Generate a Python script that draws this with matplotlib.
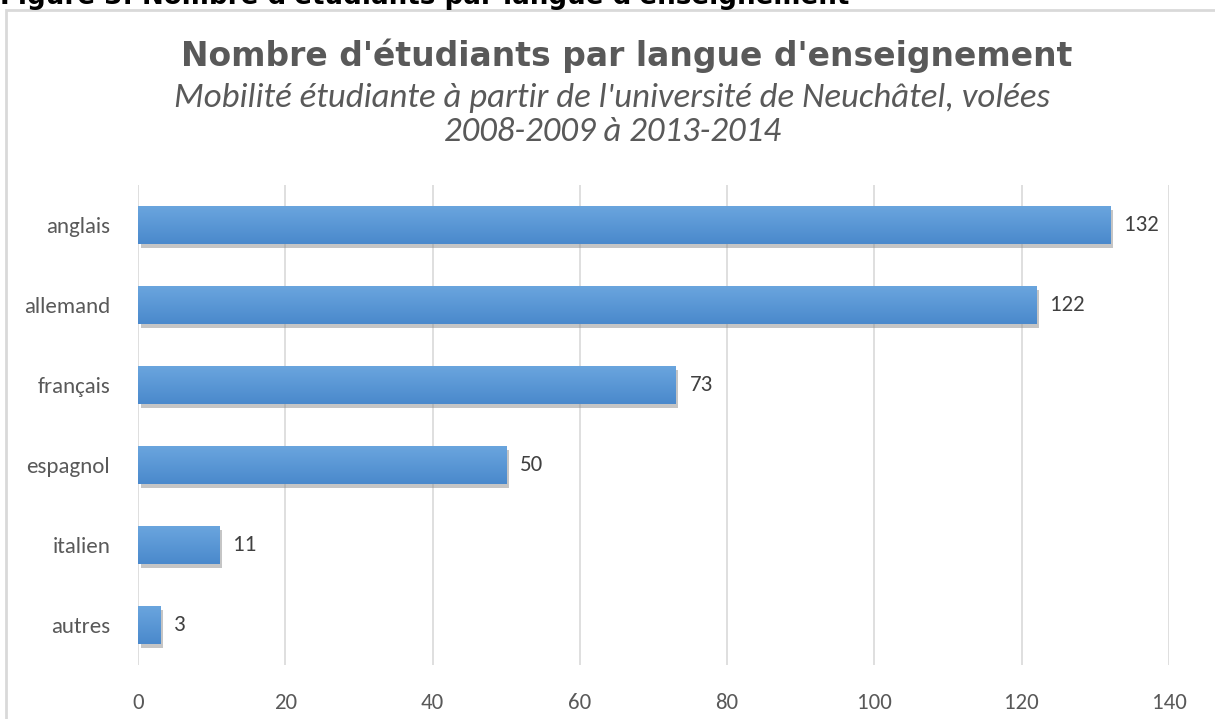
import matplotlib
matplotlib.use("Agg")
import matplotlib.pyplot as plt
import numpy as np
from matplotlib.patches import Rectangle
import matplotlib.patheffects as pe
from matplotlib import font_manager
from matplotlib.colors import LinearSegmentedColormap

categories = ["anglais", "allemand", "français", "espagnol", "italien", "autres"]
values = [132, 122, 73, 50, 11, 3]
xticks = [0, 20, 40, 60, 80, 100, 120, 140]

avail = {f.name for f in font_manager.fontManager.ttflist}
def pick(*names):
    for nm in names:
        if nm in avail:
            return nm
    return "DejaVu Sans"

calibri = pick("Carlito", "Open Sans", "Lato")
sub_font = pick("Carlito", "Archivo Narrow", "Asap Condensed", "Liberation Sans Narrow")
title_font = pick("DejaVu Sans")

fig = plt.figure(figsize=(12.15, 7.19), dpi=100)
fig.patch.set_facecolor("white")

# outer frame
fig.patches.append(Rectangle((6/1215, -0.05), 1.2, 1 - 10/719 + 0.05,
                             transform=fig.transFigure, fill=False,
                             edgecolor="#D9D9D9", lw=2, zorder=0))

fig.text(0.0, 1 - 4/719, "Figure 3: Nombre d'étudiants par langue d'enseignement",
         fontsize=18.8, fontweight="bold", color="black", ha="left", va="baseline",
         family=title_font)

fig.text(627/1215, 1 - 56/719, "Nombre d'étudiants par langue d'enseignement",
         fontsize=23.8, fontweight="bold", color="#595959", ha="center", va="center",
         family=title_font)
fig.text(612/1215, 1 - 115/719,
         "Mobilité étudiante à partir de l'université de Neuchâtel, volées\n2008-2009 à 2013-2014",
         fontsize=25, style="italic", color="#595959", ha="center", va="center",
         family=sub_font, linespacing=1.17)

ax = fig.add_axes([138/1215, 1 - 665/719, 1031/1215, 480/719])
n = len(categories)
ypos = np.arange(n)
bar_h = 0.475
bars = ax.barh(ypos, values, height=bar_h, color="#5B9BD5", zorder=3,
               path_effects=[pe.SimplePatchShadow(offset=(2, -3), shadow_rgbFace="#8c8c8c", alpha=0.5),
                             pe.Normal()])

# gradient overlay
grad = np.linspace(0, 1, 64).reshape(-1, 1)
cmap = LinearSegmentedColormap.from_list("g", ["#6AA5DE", "#4A89CC"])
for b in bars:
    x0, y0 = b.get_x(), b.get_y()
    w, h = b.get_width(), b.get_height()
    im = ax.imshow(grad, extent=(x0, x0 + w, y0 + h, y0), cmap=cmap, aspect="auto",
                   zorder=4, origin="upper")
    im.set_clip_path(b)

for y, v in zip(ypos, values):
    ax.annotate(str(v), (v, y), xytext=(10, 0), textcoords="offset points",
                ha="left", va="center", fontsize=16.5, color="#404040", zorder=5,
                family=calibri)

ax.set_xlim(0, 140)
ax.set_ylim(n - 0.5, -0.5)
ax.set_xticks(xticks)
ax.set_xticklabels([str(t) for t in xticks], fontsize=16.5, color="#595959", family=calibri)
ax.set_yticks(ypos)
ax.set_yticklabels(categories, fontsize=16.5, color="#595959", family=calibri)
ax.tick_params(axis="x", length=0, pad=20)
ax.tick_params(axis="y", length=0, pad=20)
ax.grid(axis="x", color="#D9D9D9", lw=1.2, zorder=0)
ax.set_axisbelow(True)
for s in ax.spines.values():
    s.set_visible(False)

fig.savefig("out.png", dpi=100, facecolor="white")
